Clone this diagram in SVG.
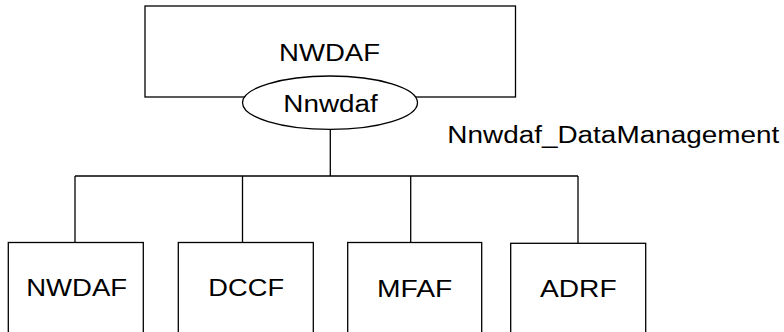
<svg xmlns="http://www.w3.org/2000/svg" width="784" height="332" viewBox="0 0 784 332">
<style>
.box{fill:#fff;stroke:#000;stroke-width:1.3}
.ln{fill:none;stroke:#000;stroke-width:1.3}
.t{font-family:"Liberation Sans",Arial,sans-serif;font-size:24.7px;fill:#000}
.m{text-anchor:middle}
</style>
<g id="connectors">
<line class="ln" x1="330.3" y1="129" x2="330.3" y2="176"/>
<line class="ln" x1="75" y1="176" x2="578" y2="176"/>
<line class="ln" x1="75" y1="176" x2="75" y2="242.5"/>
<line class="ln" x1="242.5" y1="176" x2="242.5" y2="242.5"/>
<line class="ln" x1="410.7" y1="176" x2="410.7" y2="242.5"/>
<line class="ln" x1="578" y1="176" x2="578" y2="243"/>
</g>
<g id="nwdaf-top">
<rect class="box" x="145" y="6" width="370.5" height="91"/>
<text class="t m" x="329.5" y="61" textLength="101" lengthAdjust="spacingAndGlyphs">NWDAF</text>
</g>
<g id="nnwdaf">
<ellipse class="box" cx="330" cy="102.7" rx="87.5" ry="26.7"/>
<text class="t m" x="330.5" y="111.7" textLength="94.4" lengthAdjust="spacingAndGlyphs">Nnwdaf</text>
</g>
<g id="service-label">
<text class="t" x="447.3" y="142.7" textLength="332" lengthAdjust="spacingAndGlyphs">Nnwdaf_DataManagement</text>
</g>
<g id="nwdaf">
<rect class="box" x="8.3" y="242.5" width="135" height="100"/>
<text class="t m" x="76.7" y="296" textLength="101" lengthAdjust="spacingAndGlyphs">NWDAF</text>
</g>
<g id="dccf">
<rect class="box" x="178.3" y="242.5" width="135" height="100"/>
<text class="t m" x="246.2" y="296" textLength="75.7" lengthAdjust="spacingAndGlyphs">DCCF</text>
</g>
<g id="mfaf">
<rect class="box" x="347.7" y="242.5" width="134" height="100"/>
<text class="t m" x="414.7" y="296.5" textLength="75.3" lengthAdjust="spacingAndGlyphs">MFAF</text>
</g>
<g id="adrf">
<rect class="box" x="510.7" y="243.3" width="135" height="100"/>
<text class="t m" x="578.3" y="297.3" textLength="76.7" lengthAdjust="spacingAndGlyphs">ADRF</text>
</g>
</svg>
